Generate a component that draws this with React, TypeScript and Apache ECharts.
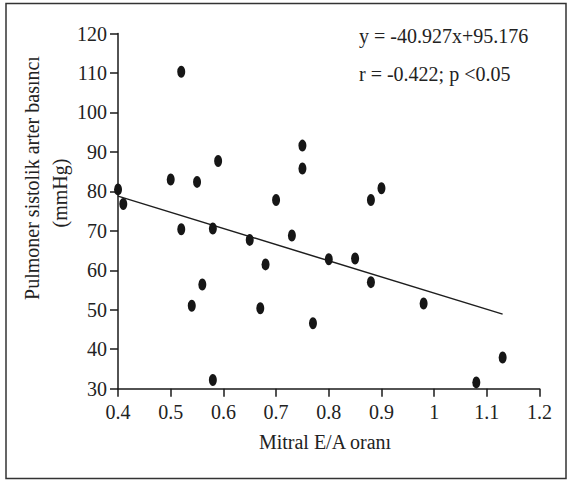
import React, { useEffect, useRef } from "react";
import * as echarts from "echarts";

const eaRatio = [0.40, 0.41, 0.52, 0.50, 0.55, 0.59, 0.70, 0.52, 0.58, 0.73, 0.65, 0.75, 0.75, 0.90, 0.88, 0.68, 0.56, 0.54, 0.67, 0.58, 0.80, 0.85, 0.88, 0.98, 0.77, 1.13, 1.08];
const pasp = [80.5, 76.8, 110.3, 83.0, 82.4, 87.7, 77.8, 70.4, 70.6, 68.8, 67.7, 91.6, 85.8, 80.8, 77.8, 61.5, 56.4, 51.0, 50.4, 32.2, 62.8, 63.0, 57.0, 51.6, 46.6, 37.9, 31.6];
const regressionX = [0.4, 1.13];
const regressionY = [78.8, 48.9];
const equationText = "y = -40.927x+95.176";
const statsText = "r = -0.422; p <0.05";
const xAxisName = "Mitral E/A oranı";
const yAxisName1 = "Pulmoner sistolik arter basıncı";
const yAxisName2 = "(mmHg)";

const FONT = '"Liberation Serif", "DejaVu Serif", serif';
const TEXT_COLOR = "#222222";

export default function App() {
  const ref = useRef<HTMLDivElement>(null);
  useEffect(() => {
    if (!ref.current) return;
    const chart = echarts.init(ref.current, undefined, { renderer: "svg" });
    const points = eaRatio.map((x, i) => [x, pasp[i]]);
    const line = regressionX.map((x, i) => [x, regressionY[i]]);
    chart.setOption({
      animation: false,
      backgroundColor: "#ffffff",
      grid: { left: 118, top: 33.5, width: 421.5, height: 355.2 },
      xAxis: {
        type: "value",
        min: 0.4,
        max: 1.2,
        interval: 0.1,
        axisLine: { lineStyle: { color: "#1a1a1a", width: 1.5 } },
        axisTick: { show: true, length: 8, lineStyle: { color: "#1a1a1a", width: 1.5 } },
        splitLine: { show: false },
        axisLabel: {
          margin: 13,
          color: TEXT_COLOR,
          fontFamily: FONT,
          fontSize: 20,
          formatter: (v: number) => String(Math.round(v * 10) / 10),
        },
      },
      yAxis: {
        type: "value",
        min: 30,
        max: 120,
        interval: 10,
        axisLine: { show: true, lineStyle: { color: "#1a1a1a", width: 1.5 } },
        axisTick: { show: true, length: 8, lineStyle: { color: "#1a1a1a", width: 1.5 } },
        splitLine: { show: false },
        axisLabel: {
          margin: 11,
          color: TEXT_COLOR,
          fontFamily: FONT,
          fontSize: 20,
        },
      },
      series: [
        {
          type: "line",
          data: line,
          symbol: "none",
          lineStyle: { color: "#1e1e1e", width: 1.5 },
          z: 2,
        },
        {
          type: "scatter",
          data: points,
          symbol: "circle",
          symbolSize: [8, 12],
          itemStyle: { color: "#161616", opacity: 1 },
          z: 3,
        },
      ],
      graphic: [
        {
          type: "rect",
          shape: { x: 6, y: 3.5, width: 560, height: 475 },
          style: { fill: "none", stroke: "#333333", lineWidth: 1.5 },
          silent: true,
        },
        {
          type: "text",
          x: 359,
          y: 36,
          style: { text: equationText, font: `20px ${FONT}`, fill: TEXT_COLOR, textAlign: "left", textVerticalAlign: "middle" },
        },
        {
          type: "text",
          x: 359,
          y: 74,
          style: { text: statsText, font: `20px ${FONT}`, fill: TEXT_COLOR, textAlign: "left", textVerticalAlign: "middle" },
        },
        {
          type: "text",
          x: 325,
          y: 442,
          style: { text: xAxisName, font: `20px ${FONT}`, fill: TEXT_COLOR, textAlign: "center", textVerticalAlign: "middle" },
        },
        {
          type: "text",
          x: 32,
          y: 178,
          rotation: Math.PI / 2,
          style: { text: yAxisName1, font: `20px ${FONT}`, fill: TEXT_COLOR, textAlign: "center", textVerticalAlign: "middle" },
        },
        {
          type: "text",
          x: 60,
          y: 193,
          rotation: Math.PI / 2,
          style: { text: yAxisName2, font: `20px ${FONT}`, fill: TEXT_COLOR, textAlign: "center", textVerticalAlign: "middle" },
        },
      ],
    });
    return () => chart.dispose();
  }, []);
  return (
    <div
      ref={ref}
      style={{ position: "absolute", left: 0, top: 0, width: 569, height: 480 }}
    />
  );
}
